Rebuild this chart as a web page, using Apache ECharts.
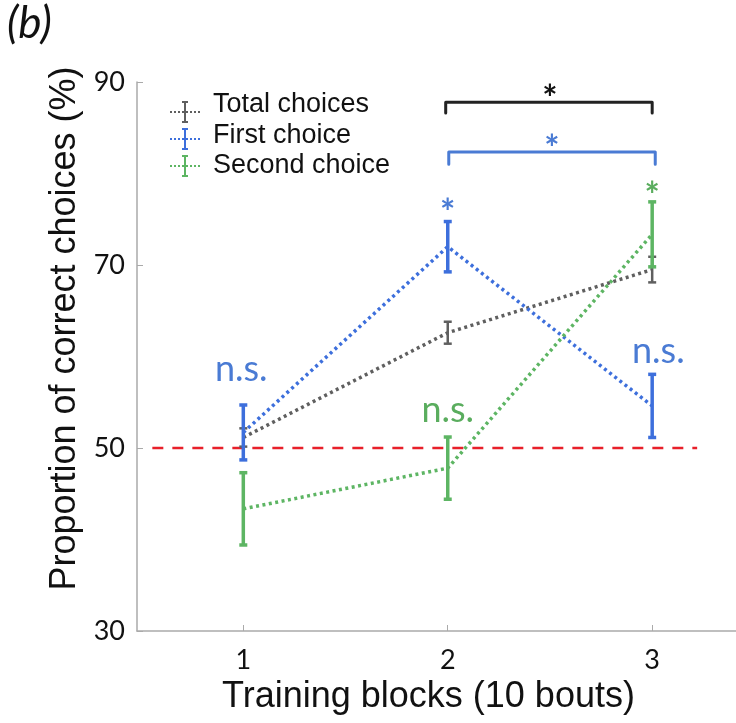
<!DOCTYPE html>
<html>
<head>
<meta charset="utf-8">
<script src="https://cdn.jsdelivr.net/npm/echarts@6/dist/echarts.min.js"></script>
<style>
  html, body { margin: 0; padding: 0; background: #fff; }
  #main { width: 736px; height: 723px; }
</style>
</head>
<body>
<div id="main"></div>
<script>
// training blocks
var blocks = [1, 2, 3];
// mean proportion correct (%) and error half-widths
var totalMean = [51.15, 62.6, 69.5];
var totalErr = [1.0, 1.2, 1.4];
var firstMean = [51.7, 72.0, 54.6];
var firstErr = [3.0, 2.75, 3.45];
var secondMean = [43.35, 47.8, 73.35];
var secondErr = [3.95, 3.4, 3.55];
var chanceLevel = 50;
var chanceRange = [0.555, 3.22];
var yTicks = [30, 50, 70, 90];

// significance marks
var annotations = [
  { x: 0.99, y: 58.6, text: 'n.s.', color: '#4a7bd4', size: 36 },
  { x: 2, y: 75.6, text: '*', color: '#4a7bd4', size: 36 },
  { x: 2, y: 54.1, text: 'n.s.', color: '#5aad5e', size: 36 },
  { x: 3, y: 77.5, text: '*', color: '#5aad5e', size: 36 },
  { x: 3.03, y: 60.6, text: 'n.s.', color: '#4a7bd4', size: 36 },
  { x: 2.5, y: 88.1, text: '*', color: '#111', size: 36 },
  { x: 2.51, y: 82.6, text: '*', color: '#4a7bd4', size: 36 }
];
// brackets: [x1, x2, yTop, yEnd]
var brackets = [
  { x1: 1.99, x2: 3.0, top: 87.8, end: 86.6, color: '#222' },
  { x1: 2.005, x2: 3.015, top: 82.35, end: 81.0, color: '#4a7bd4' }
];

var gray = '#5f5f5f', blue = '#3d6fdc', green = '#5db563';

function pairs(means) {
  return blocks.map(function (b, i) { return [b, means[i]]; });
}
function bars(means, errs) {
  return blocks.map(function (b, i) { return [b, means[i] - errs[i], means[i] + errs[i]]; });
}

function errorBarSeries(means, errs, color, width) {
  return {
    type: 'custom',
    z: 3,
    data: bars(means, errs),
    renderItem: function (params, api) {
      var lo = api.coord([api.value(0), api.value(1)]);
      var hi = api.coord([api.value(0), api.value(2)]);
      var c = 4;
      var st = { stroke: color, lineWidth: width };
      return {
        type: 'group',
        children: [
          { type: 'line', shape: { x1: lo[0], y1: lo[1], x2: hi[0], y2: hi[1] }, style: st },
          { type: 'line', shape: { x1: lo[0] - c, y1: lo[1], x2: lo[0] + c, y2: lo[1] }, style: st },
          { type: 'line', shape: { x1: hi[0] - c, y1: hi[1], x2: hi[0] + c, y2: hi[1] }, style: st }
        ]
      };
    }
  };
}

function lineSeries(means, color) {
  return {
    type: 'line',
    data: pairs(means),
    symbol: 'none',
    z: 2,
    lineStyle: { color: color, width: 3.5, type: [3, 3.5] }
  };
}

var myChart = echarts.init(document.getElementById('main'));

// legend drawn as graphic rows
var legendRows = [
  { name: 'Total choices', color: gray, y: 112, ty: 105 },
  { name: 'First choice', color: blue, y: 139, ty: 136 },
  { name: 'Second choice', color: green, y: 166, ty: 166 }
];
var graphics = [{
  type: 'text', left: 7, top: 2,
  style: { text: '(b)', font: 'italic 44px Lato', fill: '#111' }
}];
legendRows.forEach(function (r) {
  graphics.push({ type: 'line', shape: { x1: 170, y1: r.y, x2: 200, y2: r.y },
    style: { stroke: r.color, lineWidth: 2, lineDash: [2, 2] } });
  graphics.push({ type: 'line', shape: { x1: 185, y1: r.y - 10, x2: 185, y2: r.y + 10 },
    style: { stroke: r.color, lineWidth: 2 } });
  graphics.push({ type: 'line', shape: { x1: 182, y1: r.y - 10, x2: 188, y2: r.y - 10 },
    style: { stroke: r.color, lineWidth: 2 } });
  graphics.push({ type: 'line', shape: { x1: 182, y1: r.y + 10, x2: 188, y2: r.y + 10 },
    style: { stroke: r.color, lineWidth: 2 } });
  graphics.push({ type: 'text', x: 213, y: r.ty,
    style: { text: r.name, font: '27px "Liberation Sans"', fill: '#111', verticalAlign: 'middle' } });
});

var option = {
  animation: false,
  grid: { left: 137, right: 0, top: 82, bottom: 92, outerBoundsMode: 'none' },
  xAxis: {
    type: 'value',
    min: 0.48,
    max: 3.41,
    name: 'Training blocks (10 bouts)',
    nameLocation: 'middle',
    nameGap: 48,
    nameTextStyle: { fontFamily: 'Liberation Sans', fontSize: 36, color: '#111', padding: [0, 16, 0, 0] },
    axisLine: { lineStyle: { color: '#aaa', width: 1.5 } },
    axisTick: { inside: true, length: 6, customValues: blocks, lineStyle: { color: '#aaa' } },
    axisLabel: { customValues: blocks, fontFamily: 'Lato', fontSize: 27, color: '#111', margin: 16 },
    splitLine: { show: false }
  },
  yAxis: {
    type: 'value',
    min: 30,
    max: 90,
    interval: 20,
    name: 'Proportion of correct choices (%)',
    nameLocation: 'middle',
    nameGap: 52,
    nameTextStyle: { fontFamily: 'Liberation Sans', fontSize: 36, color: '#111', padding: [0, 0, 0, 56] },
    axisLine: { show: true, lineStyle: { color: '#aaa', width: 1.5 } },
    axisTick: { show: true, inside: true, length: 6, customValues: yTicks, lineStyle: { color: '#aaa' } },
    axisLabel: { fontFamily: 'Lato', fontSize: 27, color: '#111', margin: 12 },
    splitLine: { show: false }
  },
  graphic: graphics,
  series: [
    {
      type: 'line',
      data: [[chanceRange[0], chanceLevel], [chanceRange[1], chanceLevel]],
      symbol: 'none',
      z: 1,
      lineStyle: { color: '#e8202a', width: 2.5, type: [11, 9] }
    },
    lineSeries(totalMean, gray),
    lineSeries(firstMean, blue),
    lineSeries(secondMean, green),
    errorBarSeries(totalMean, totalErr, gray, 2.5),
    errorBarSeries(firstMean, firstErr, blue, 3.5),
    errorBarSeries(secondMean, secondErr, green, 3.5),
    {
      type: 'custom',
      z: 4,
      data: brackets.map(function (b) { return [b.x1, b.x2, b.top, b.end]; }),
      renderItem: function (params, api) {
        var b = brackets[params.dataIndex];
        var a1 = api.coord([api.value(0), api.value(3)]);
        var t1 = api.coord([api.value(0), api.value(2)]);
        var t2 = api.coord([api.value(1), api.value(2)]);
        var a2 = api.coord([api.value(1), api.value(3)]);
        return {
          type: 'polyline',
          shape: { points: [a1, t1, t2, a2] },
          style: { stroke: b.color, lineWidth: 3, fill: null, lineJoin: 'round', lineCap: 'round' }
        };
      }
    },
    {
      type: 'custom',
      z: 5,
      data: annotations.map(function (a) { return [a.x, a.y]; }),
      renderItem: function (params, api) {
        var a = annotations[params.dataIndex];
        var p = api.coord([api.value(0), api.value(1)]);
        return {
          type: 'text',
          x: p[0], y: p[1],
          style: {
            text: a.text, fill: a.color,
            font: (a.text === '*' ? 'bold ' : '') + a.size + 'px Lato',
            align: 'center', verticalAlign: 'middle'
          }
        };
      }
    }
  ]
};
myChart.setOption(option);
</script>
</body>
</html>
